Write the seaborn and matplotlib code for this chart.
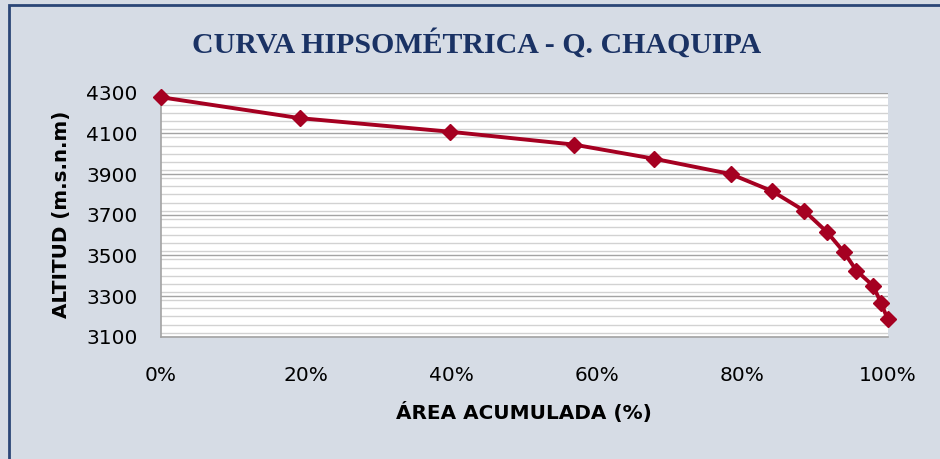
import matplotlib
matplotlib.use("Agg")
import matplotlib.pyplot as plt
from matplotlib.patches import Rectangle
from matplotlib.ticker import MultipleLocator, FuncFormatter
import seaborn as sns
import pandas as pd

# Cumulative area (%) and altitude (m.s.n.m) of the hypsometric curve
area_acumulada = [0.0, 19.1, 39.8, 56.8, 67.9, 78.4, 84.1, 88.5, 91.7, 94.0, 95.7, 98.0, 99.1, 100.0]
altitud = [4278, 4175, 4108, 4045, 3975, 3900, 3816, 3720, 3613, 3515, 3425, 3350, 3265, 3186]

x_ticks = [0, 20, 40, 60, 80, 100]
y_ticks = [3100, 3300, 3500, 3700, 3900, 4100, 4300]

titulo = "CURVA HIPSOMÉTRICA - Q. CHAQUIPA"
etiqueta_x = "ÁREA ACUMULADA (%)"
etiqueta_y = "ALTITUD (m.s.n.m)"

df = pd.DataFrame({"area": area_acumulada, "altitud": altitud})

sns.set_theme(style="white")
plt.rcParams["font.family"] = ["DejaVu Sans"]
plt.rcParams["text.color"] = "black"
plt.rcParams["axes.labelcolor"] = "black"

W, H = 940, 459
bg = "#D6DCE5"
fig = plt.figure(figsize=(W / 100, H / 100), dpi=100, facecolor=bg)

left, right = 160.7 / W, 887.7 / W
top, bottom = 1 - 92.7 / H, 1 - 336.7 / H
ax = fig.add_axes([left, bottom, right - left, top - bottom])
ax.set_facecolor("white")
ax.patch.set_edgecolor("none")

# Chart-area frame (dark blue) along the left and top edges
fig.patches.append(Rectangle((9 / W, -0.1), 1.2, 1.1 - 5 / H,
                             transform=fig.transFigure, fill=False,
                             edgecolor="#2B4677", linewidth=2.0, zorder=0))

sns.lineplot(data=df, x="area", y="altitud", ax=ax, color="#A50021",
             linewidth=2.8, marker="D", markersize=8, markeredgecolor="#A50021",
             markeredgewidth=1.0, sort=False, clip_on=False, zorder=5)

ax.set_xlim(0, 100)
ax.set_ylim(3100, 4300)
ax.set_xticks(x_ticks)
ax.set_yticks(y_ticks)
ax.xaxis.set_major_formatter(FuncFormatter(lambda v, p: f"{v:.0f}%"))
ax.yaxis.set_minor_locator(MultipleLocator(40))

ax.xaxis.grid(False, which="both")
ax.yaxis.grid(True, which="major", color="#A3A3A3", linewidth=1.0)
ax.yaxis.grid(True, which="minor", color="#D2D2D2", linewidth=1.0)
ax.set_axisbelow(True)

for s in ["left", "bottom"]:
    ax.spines[s].set_color("#A3A3A3")
    ax.spines[s].set_linewidth(1.2)

ax.tick_params(axis="both", which="major", direction="out", length=6.1,
               width=1.0, color="#A3A3A3", labelsize=14.5, labelcolor="black")
ax.tick_params(axis="x", pad=15)
ax.tick_params(axis="y", pad=10.5)
ax.tick_params(axis="y", which="minor", length=0)
ax.tick_params(top=False, right=False)

ax.set_xlabel(etiqueta_x, fontsize=14.4, fontweight="bold", color="black")
ax.set_ylabel(etiqueta_y, fontsize=14.3, fontweight="bold", color="black")
ax.xaxis.set_label_coords(0.5, (336.7 - 412) / 244)
ax.xaxis.label.set_va("center")
ax.yaxis.set_label_coords((61 - 160.7) / 727, 0.5)
ax.yaxis.label.set_va("center")

fig.text(476.5 / W, 1 - 53 / H, titulo, ha="center", va="baseline",
         fontsize=21.5, fontweight="bold", color="#1A3264",
         family=["Liberation Serif", "DejaVu Serif"])

# Plot area is open on the top and right sides
ax.spines["top"].set_visible(False)
ax.spines["right"].set_visible(False)

fig.savefig("out.png", dpi=100, facecolor=bg)
